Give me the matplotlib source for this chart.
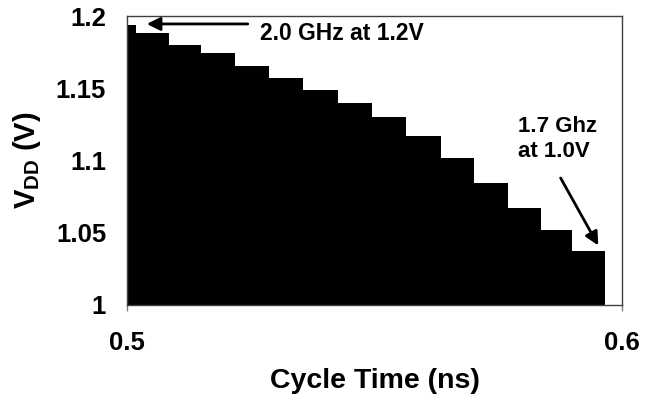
import numpy as np
import matplotlib
matplotlib.use("Agg")
import matplotlib.pyplot as plt

# fonts - bold arial-like look
plt.rcParams['font.family'] = ['Liberation Sans', 'DejaVu Sans']
plt.rcParams['font.weight'] = 'bold'
plt.rcParams['mathtext.fontset'] = 'custom'
plt.rcParams['mathtext.rm'] = 'Liberation Sans:bold'
plt.rcParams['mathtext.bf'] = 'Liberation Sans:bold'

# step edges (cycle time, ns) and supply voltage of each step
cycle_edges = [0.5, 0.5018, 0.5085, 0.5149, 0.5218, 0.5287, 0.5356, 0.5427,
               0.5495, 0.5564, 0.5634, 0.5701, 0.5770, 0.5836, 0.5898, 0.5966]
vdd_steps = [1.1938, 1.188, 1.1799, 1.1746, 1.1654, 1.1569, 1.1488, 1.1398,
             1.1303, 1.117, 1.1015, 1.0844, 1.0669, 1.0519, 1.0374]

x_ticks = [0.5, 0.6]
y_ticks = [1, 1.05, 1.1, 1.15, 1.2]
y_tick_labels = ['1', '1.05', '1.1', '1.15', '1.2']

fig = plt.figure(figsize=(6.57, 3.96), dpi=100)
ax = fig.add_axes([127 / 657, 91 / 396, 495 / 657, 289 / 396])

ax.stairs(vdd_steps, cycle_edges, baseline=1.0, fill=True, color='black')

ax.set_xlim(0.5, 0.6)
ax.set_ylim(1.0, 1.2)
ax.set_xticks(x_ticks)
ax.set_xticklabels(['0.5', '0.6'])
ax.set_yticks(y_ticks)
ax.set_yticklabels(y_tick_labels)

for s in ax.spines.values():
    s.set_color('#404040')
    s.set_linewidth(1.0)

ax.tick_params(axis='x', direction='out', length=4, width=1, color='#808080',
               labelsize=18.5, pad=15)
ax.tick_params(axis='y', length=0, labelsize=18.5, pad=15)

ax.set_xlabel('Cycle Time (ns)', fontsize=20.5, fontweight='bold', labelpad=9)
ax.set_ylabel(r'$\mathregular{V_{DD}}$ (V)', fontsize=21, fontweight='bold', labelpad=9)

# annotations
ax.annotate('', xy=(0.5040, 1.1945), xytext=(0.5244, 1.1945),
            arrowprops=dict(arrowstyle='-|>', color='black', lw=2,
                            mutation_scale=20, shrinkA=0, shrinkB=0))
ax.text(0.5269, 1.1879, '2.0 GHz at 1.2V', fontsize=16.5, fontweight='bold',
        va='center', ha='left')

ax.annotate('', xy=(0.5952, 1.0412), xytext=(0.5876, 1.0879),
            arrowprops=dict(arrowstyle='-|>', color='black', lw=2,
                            mutation_scale=20, shrinkA=0, shrinkB=0))
ax.text(0.579, 1.131, '1.7 Ghz\nat 1.0V', fontsize=16, fontweight='bold',
        va='top', ha='left', linespacing=1.25)

fig.savefig('out.png', dpi=100)
